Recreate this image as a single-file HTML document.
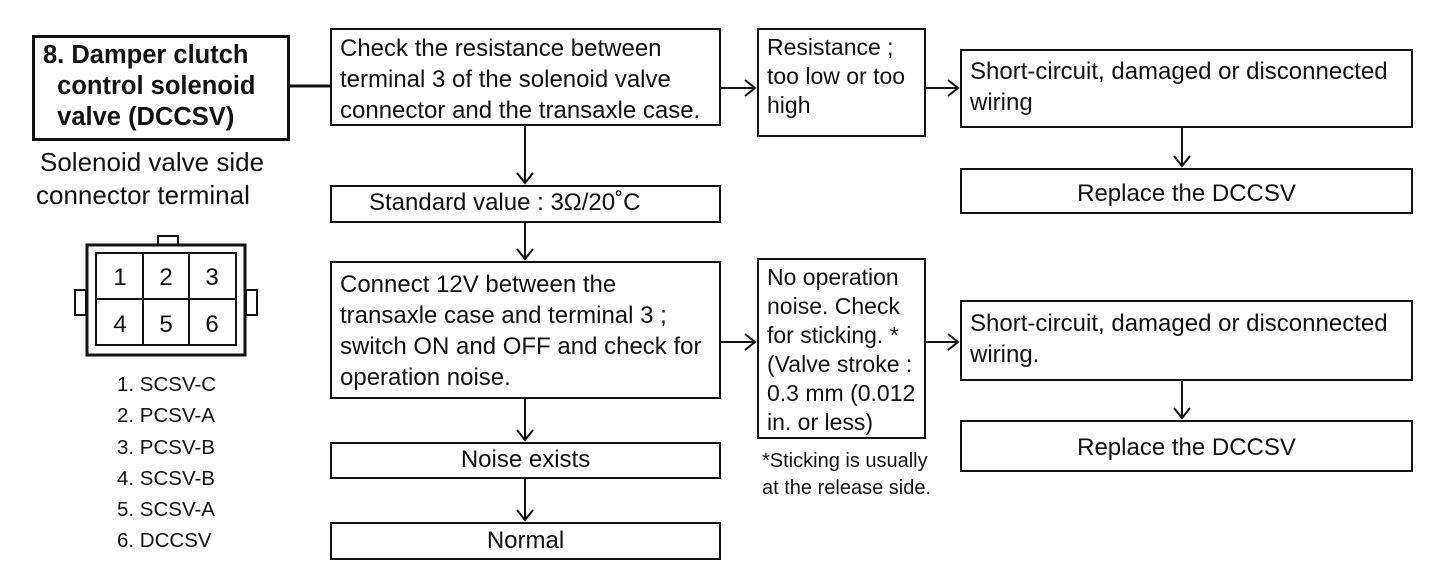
<!DOCTYPE html>
<html><head><meta charset="utf-8"><style>
body{margin:0;width:1456px;height:582px;background:#fff;position:relative;overflow:hidden;font-family:"Liberation Sans",sans-serif;color:#111}
.b{position:absolute;border:2px solid #111;box-sizing:border-box;font-size:24px;line-height:31px;padding:4px 8px;white-space:nowrap}
.t{position:absolute;font-size:24px;line-height:31px;white-space:nowrap}
.c{text-align:center}
svg{position:absolute;left:0;top:0}
</style></head><body>
<svg width="1456" height="582">
<g stroke="#111" stroke-width="2" fill="none">
<line x1="289" y1="86" x2="330" y2="86" stroke-width="3"/>
<line x1="720" y1="88" x2="755" y2="88"/><polyline points="745,80 755,88 745,96"/>
<line x1="925" y1="88" x2="958" y2="88"/><polyline points="948,80 958,88 948,96"/>
<line x1="1182" y1="127" x2="1182" y2="166"/><polyline points="1174,156 1182,166 1190,156"/>
<line x1="525" y1="125" x2="525" y2="183"/><polyline points="517,173 525,183 533,173"/>
<line x1="525" y1="222" x2="525" y2="259"/><polyline points="517,249 525,259 533,249"/>
<line x1="525" y1="398" x2="525" y2="440"/><polyline points="517,430 525,440 533,430"/>
<line x1="525" y1="478" x2="525" y2="520"/><polyline points="517,510 525,520 533,510"/>
<line x1="720" y1="342" x2="755" y2="342"/><polyline points="745,334 755,342 745,350"/>
<line x1="925" y1="342" x2="958" y2="342"/><polyline points="948,334 958,342 948,350"/>
<line x1="1182" y1="380" x2="1182" y2="418"/><polyline points="1174,408 1182,418 1190,408"/>
<rect x="87" y="245" width="158" height="110" stroke-width="3"/>
<rect x="96" y="253" width="140" height="92"/>
<line x1="96" y1="299" x2="236" y2="299"/>
<line x1="143" y1="253" x2="143" y2="345"/><line x1="189" y1="253" x2="189" y2="345"/>
<rect x="158" y="236" width="20" height="9"/>
<rect x="75" y="290" width="11" height="25"/><rect x="246" y="290" width="11" height="25"/>
</g>
<g font-family="Liberation Sans" font-size="24" fill="#111" text-anchor="middle">
<text x="120" y="285">1</text><text x="166" y="285">2</text><text x="212" y="285">3</text>
<text x="120" y="332">4</text><text x="166" y="332">5</text><text x="212" y="332">6</text>
</g>
</svg>
<div class="b" style="left:32px;top:35px;width:258px;height:106px;border-width:3px;font-weight:bold;font-size:25.5px;line-height:31px;padding:2px 8px">8. Damper clutch<br>&nbsp;&nbsp;control solenoid<br>&nbsp;&nbsp;valve (DCCSV)</div>
<div class="t" style="left:40px;top:147px;font-size:26px">Solenoid valve side</div>
<div class="t" style="left:36px;top:180px;font-size:26px">connector terminal</div>
<div class="t" style="left:117px;top:369px;font-size:20.5px;line-height:31.3px">1. SCSV-C<br>2. PCSV-A<br>3. PCSV-B<br>4. SCSV-B<br>5. SCSV-A<br>6. DCCSV</div>
<div class="b" style="left:330px;top:28px;width:391px;height:98px;padding:3px 8px">Check the resistance between<br>terminal 3 of the solenoid valve<br>connector and the transaxle case.</div>
<div class="b" style="left:330px;top:185px;width:391px;height:38px;line-height:30px;padding:1px 8px 1px 37px">Standard value : 3Ω/20˚C</div>
<div class="b" style="left:330px;top:261px;width:391px;height:138px;padding:6px 8px">Connect 12V between the<br>transaxle case and terminal 3 ;<br>switch ON and OFF and check for<br>operation noise.</div>
<div class="b c" style="left:330px;top:442px;width:391px;height:37px;line-height:32px;padding:0 8px">Noise exists</div>
<div class="b c" style="left:330px;top:522px;width:391px;height:38px;line-height:33px;padding:0 8px">Normal</div>
<div class="b" style="left:757px;top:28px;width:169px;height:109px;font-size:23px;line-height:29px;padding:3px 8px">Resistance ;<br>too low or too<br>high</div>
<div class="b" style="left:960px;top:49px;width:453px;height:79px;padding:5px 8px">Short-circuit, damaged or disconnected<br>wiring</div>
<div class="b c" style="left:960px;top:168px;width:453px;height:46px;line-height:40px">Replace the DCCSV</div>
<div class="b" style="left:757px;top:258px;width:169px;height:181px;font-size:23px;line-height:29px;padding:3px 8px">No operation<br>noise. Check<br>for sticking. *<br>(Valve stroke :<br>0.3 mm (0.012<br>in. or less)</div>
<div class="t" style="left:762px;top:448px;font-size:20px;line-height:27px">*Sticking is usually<br>at the release side.</div>
<div class="b" style="left:960px;top:300px;width:453px;height:81px;padding:6px 8px">Short-circuit, damaged or disconnected<br>wiring.</div>
<div class="b c" style="left:960px;top:420px;width:453px;height:52px;line-height:44px">Replace the DCCSV</div>
</body></html>
